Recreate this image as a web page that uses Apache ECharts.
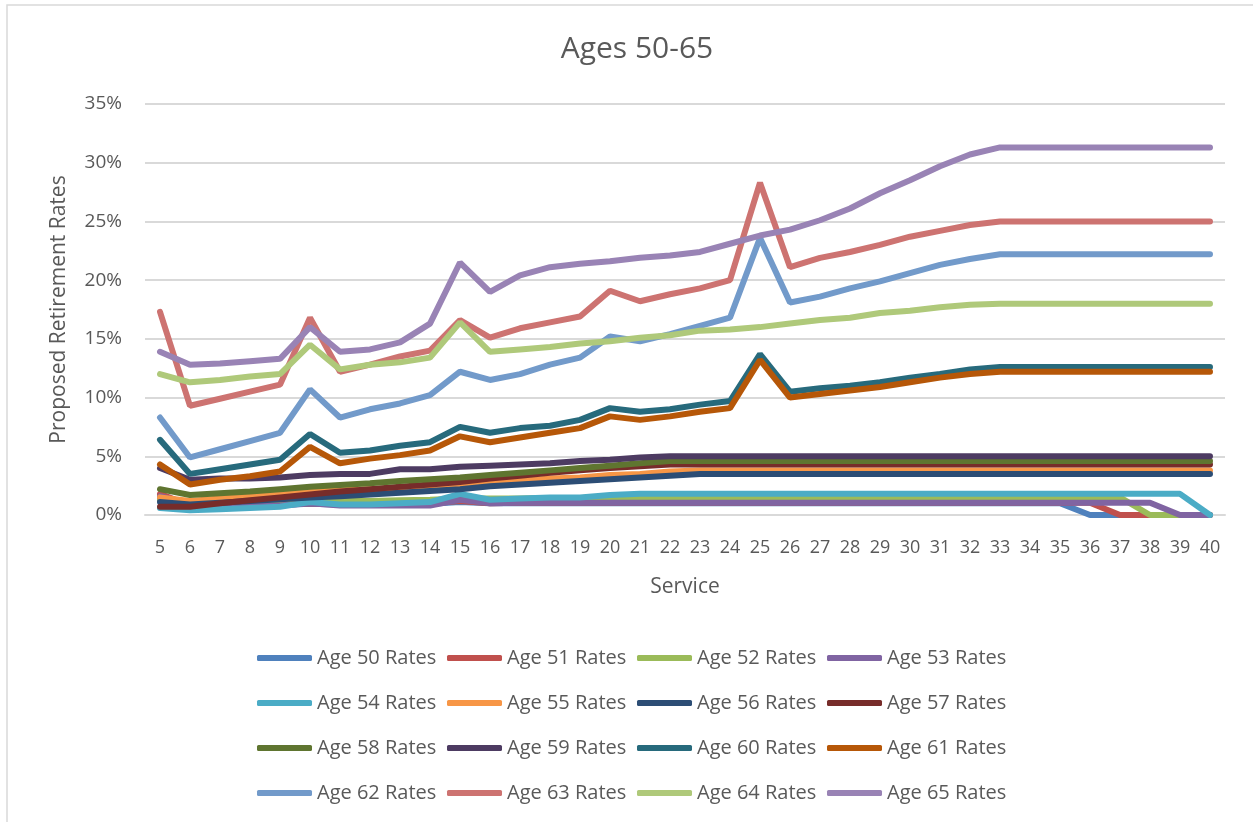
<!DOCTYPE html>
<html lang="en">
<head>
    <meta charset="UTF-8">
    <title>Ages 50-65</title>
    <script src="https://cdn.jsdelivr.net/npm/echarts@6/dist/echarts.min.js"></script>
    <style>
        html, body { margin: 0; padding: 0; background: #fff; }
        #chart { width: 1253px; height: 822px; }
    </style>
</head>
<body>
<div id="chart"></div>
<script type="text/javascript">
    // service years on the x axis
    var service = ['5','6','7','8','9','10','11','12','13','14','15','16','17','18','19','20','21','22','23','24',
        '25','26','27','28','29','30','31','32','33','34','35','36','37','38','39','40'];

    // proposed retirement rates in percent
    var age50 = [1.4,0.7,0.75,0.8,0.85,0.95,0.9,0.9,0.9,0.95,1.1,1.0,1.0,1.0,1.0,1.0,1.0,1.0,1.0,1.0,
        1.0,1.0,1.0,1.0,1.0,1.0,1.0,1.0,1.0,1.0,1.0,0,0,0,0,0];
    var age51 = [1.8,0.8,0.85,0.9,0.9,1.0,0.95,0.95,0.95,1.0,1.2,1.0,1.05,1.05,1.05,1.05,1.05,1.05,1.05,1.05,
        1.05,1.05,1.05,1.05,1.05,1.05,1.05,1.05,1.05,1.05,1.05,1.05,0,0,0,0];
    var age52 = [1.3,0.8,0.9,1.0,1.1,1.2,1.2,1.2,1.25,1.3,1.4,1.4,1.4,1.45,1.45,1.5,1.5,1.5,1.5,1.5,
        1.5,1.5,1.5,1.5,1.5,1.5,1.5,1.5,1.5,1.5,1.5,1.5,1.5,0,0,0];
    var age53 = [1.6,0.9,0.8,0.8,0.8,1.0,0.8,0.8,0.8,0.8,1.3,1.0,1.05,1.05,1.05,1.05,1.05,1.05,1.05,1.05,
        1.05,1.05,1.05,1.05,1.05,1.05,1.05,1.05,1.05,1.05,1.05,1.05,1.05,1.05,0,0];
    var age54 = [0.6,0.4,0.5,0.6,0.7,1.1,0.9,0.9,1.0,1.1,1.8,1.3,1.4,1.5,1.5,1.7,1.8,1.8,1.8,1.8,
        1.8,1.8,1.8,1.8,1.8,1.8,1.8,1.8,1.8,1.8,1.8,1.8,1.8,1.8,1.8,0];
    var age55 = [1.5,1.2,1.4,1.6,1.8,2.0,2.1,2.2,2.3,2.5,2.6,2.8,2.9,3.1,3.2,3.4,3.5,3.7,3.8,3.8,
        3.8,3.8,3.8,3.8,3.8,3.8,3.8,3.8,3.8,3.8,3.8,3.8,3.8,3.8,3.8,3.8];
    var age56 = [1.1,0.9,1.05,1.2,1.35,1.5,1.6,1.75,1.9,2.05,2.2,2.45,2.6,2.75,2.9,3.05,3.2,3.35,3.5,3.5,
        3.5,3.5,3.5,3.5,3.5,3.5,3.5,3.5,3.5,3.5,3.5,3.5,3.5,3.5,3.5,3.5];
    var age57 = [0.7,0.7,1.0,1.25,1.5,1.75,2.0,2.2,2.4,2.6,2.8,3.1,3.35,3.6,3.8,4.0,4.15,4.3,4.3,4.3,
        4.3,4.3,4.3,4.3,4.3,4.3,4.3,4.3,4.3,4.3,4.3,4.3,4.3,4.3,4.3,4.3];
    var age58 = [2.2,1.7,1.85,2.0,2.2,2.4,2.55,2.7,2.9,3.05,3.2,3.4,3.6,3.8,4.0,4.2,4.4,4.6,4.6,4.6,
        4.6,4.6,4.6,4.6,4.6,4.6,4.6,4.6,4.6,4.6,4.6,4.6,4.6,4.6,4.6,4.6];
    var age59 = [4.0,3.0,3.1,3.1,3.2,3.4,3.5,3.5,3.9,3.9,4.1,4.2,4.3,4.4,4.6,4.7,4.9,5.0,5.0,5.0,
        5.0,5.0,5.0,5.0,5.0,5.0,5.0,5.0,5.0,5.0,5.0,5.0,5.0,5.0,5.0,5.0];
    var age60 = [6.4,3.5,3.9,4.3,4.7,6.9,5.3,5.5,5.9,6.2,7.5,7.0,7.4,7.6,8.1,9.1,8.8,9.0,9.4,9.7,
        13.7,10.5,10.8,11.0,11.3,11.7,12.0,12.4,12.6,12.6,12.6,12.6,12.6,12.6,12.6,12.6];
    var age61 = [4.3,2.6,3.0,3.3,3.7,5.8,4.4,4.8,5.1,5.5,6.7,6.2,6.6,7.0,7.4,8.4,8.1,8.4,8.8,9.1,
        13.2,10.0,10.3,10.6,10.9,11.3,11.7,12.0,12.2,12.2,12.2,12.2,12.2,12.2,12.2,12.2];
    var age62 = [8.3,4.9,5.6,6.3,7.0,10.7,8.3,9.0,9.5,10.2,12.2,11.5,12.0,12.8,13.4,15.2,14.8,15.4,16.1,16.8,
        23.6,18.1,18.6,19.3,19.9,20.6,21.3,21.8,22.2,22.2,22.2,22.2,22.2,22.2,22.2,22.2];
    var age63 = [17.3,9.3,9.9,10.5,11.1,16.8,12.2,12.8,13.5,14.0,16.6,15.1,15.9,16.4,16.9,19.1,18.2,18.8,19.3,20.0,
        28.3,21.1,21.9,22.4,23.0,23.7,24.2,24.7,25.0,25.0,25.0,25.0,25.0,25.0,25.0,25.0];
    var age64 = [12.0,11.3,11.5,11.8,12.0,14.5,12.4,12.8,13.0,13.4,16.4,13.9,14.1,14.3,14.6,14.8,15.1,15.3,15.7,15.8,
        16.0,16.3,16.6,16.8,17.2,17.4,17.7,17.9,18.0,18.0,18.0,18.0,18.0,18.0,18.0,18.0];
    var age65 = [13.9,12.8,12.9,13.1,13.3,16.0,13.9,14.1,14.7,16.3,21.5,19.0,20.4,21.1,21.4,21.6,21.9,22.1,22.4,23.1,
        23.8,24.3,25.1,26.1,27.4,28.5,29.7,30.7,31.3,31.3,31.3,31.3,31.3,31.3,31.3,31.3];

    var names = ['Age 50 Rates','Age 51 Rates','Age 52 Rates','Age 53 Rates','Age 54 Rates','Age 55 Rates',
        'Age 56 Rates','Age 57 Rates','Age 58 Rates','Age 59 Rates','Age 60 Rates','Age 61 Rates',
        'Age 62 Rates','Age 63 Rates','Age 64 Rates','Age 65 Rates'];
    var rates = [age50, age51, age52, age53, age54, age55, age56, age57,
        age58, age59, age60, age61, age62, age63, age64, age65];
    var colors = ['#4F81BD','#C0504D','#9BBB59','#8064A2','#4BACC6','#F79646','#2C4D75','#772C2A',
        '#5F7530','#4D3B62','#276A7C','#B65708','#729ACA','#CD7371','#AFC97A','#9983B5'];

    var font = '"Open Sans", "Liberation Sans", sans-serif';
    var grey = '#595959';

    var series = [];
    for (var i = 0; i < names.length; i++) {
        series.push({
            name: names[i],
            type: 'line',
            data: rates[i],
            symbol: 'none',
            lineStyle: { width: 6, color: colors[i], cap: 'round' },
            itemStyle: { color: colors[i] }
        });
    }

    var myChart = echarts.init(document.getElementById('chart'));
    myChart.setOption({
        animation: false,
        color: colors,
        title: {
            text: 'Ages 50-65',
            left: 632,
            top: 29,
            textAlign: 'center',
            textStyle: { fontFamily: font, fontSize: 30, fontWeight: 'normal', color: grey }
        },
        graphic: [{
            type: 'rect',
            shape: { x: 7, y: 5, width: 1260, height: 830 },
            style: { fill: 'none', stroke: '#D9D9D9', lineWidth: 1.5 },
            silent: true
        }],
        grid: { left: 145, right: 28, top: 104, bottom: 307 },
        legend: {
            data: names,
            left: 252,
            top: 633,
            width: 770,
            icon: 'roundRect',
            itemWidth: 55,
            itemHeight: 6,
            itemGap: 5,
            textStyle: { fontFamily: font, fontSize: 20, color: grey, width: 125, lineHeight: 40, padding: [0, 0, 0, 0] }
        },
        xAxis: {
            type: 'category',
            data: service,
            name: 'Service',
            nameLocation: 'middle',
            nameGap: 62,
            nameTextStyle: { fontFamily: font, fontSize: 21, color: grey },
            axisLine: { lineStyle: { color: '#D9D9D9', width: 2 } },
            axisTick: { show: false },
            axisLabel: { fontFamily: font, fontSize: 18, color: grey, margin: 24, interval: 0 }
        },
        yAxis: {
            type: 'value',
            min: 0,
            max: 35,
            interval: 5,
            name: 'Proposed Retirement Rates',
            nameLocation: 'middle',
            nameGap: 75,
            nameTextStyle: { fontFamily: font, fontSize: 21, color: grey },
            axisLine: { show: false },
            axisTick: { show: false },
            splitLine: { lineStyle: { color: '#D9D9D9', width: 2 } },
            axisLabel: { fontFamily: font, fontSize: 19, color: grey, margin: 23, formatter: '{value}%' }
        },
        series: series
    });
</script>
</body>
</html>
